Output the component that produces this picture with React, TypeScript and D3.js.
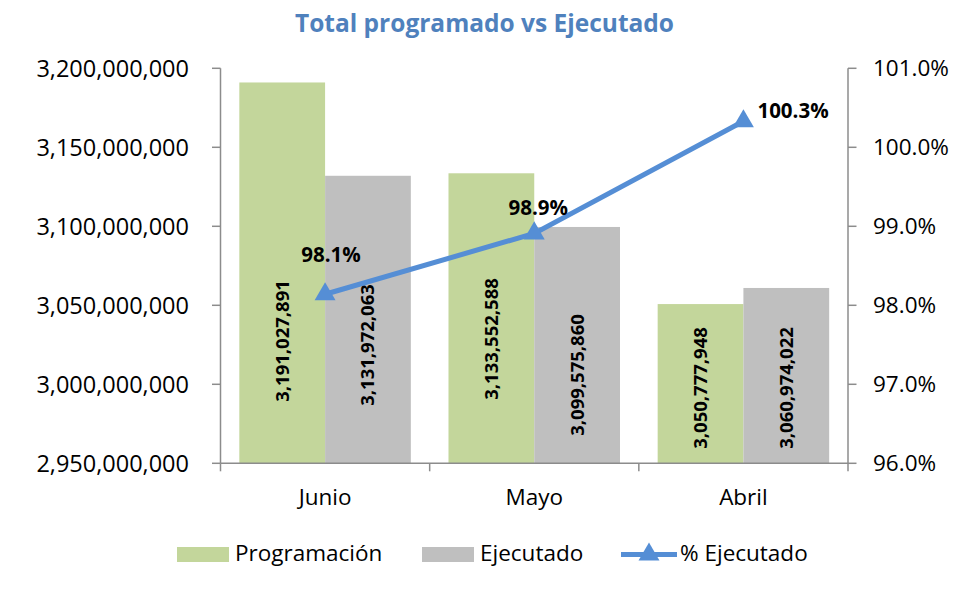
import React from 'react'
import * as d3 from 'd3'

// chart values
const categories = ['Junio', 'Mayo', 'Abril']
const programado = [3191027891, 3133552588, 3050777948]
const ejecutado = [3131972063, 3099575860, 3060974022]
const pctEjecutado = [0.9814, 0.9891, 1.0033]
const leftTicks = [2950000000, 3000000000, 3050000000, 3100000000, 3150000000, 3200000000]
const rightTicks = [0.96, 0.97, 0.98, 0.99, 1.0, 1.01]
const seriesNames = ['Programación', 'Ejecutado']

// layout
const width = 956
const height = 591
const marginLeft = 220.5
const marginRight = 108
const marginTop = 68.3
const marginBottom = 127.7
const font = "'Open Sans', 'Noto Sans', sans-serif"
const green = '#C3D69B'
const gray = '#BFBFBF'
const blue = '#558ED5'
const axisColor = '#8C8C8C'

// value labels were placed by hand in the source (centre y, px)
const valueLabelY = [
  [341, 345],
  [339, 375],
  [388, 388],
]
// percent labels: offset from the point [dx, dy(baseline), anchor]
const pctLabelOffset: [number, number, string][] = [
  [6, -32, 'middle'],
  [4, -18, 'middle'],
  [14, -3, 'start'],
]

export default function App() {
  const x = d3.scaleBand<string>()
    .domain(categories)
    .range([marginLeft, width - marginRight])

  const x1 = d3.scaleBand<string>()
    .domain(seriesNames)
    .range([x.bandwidth() * 0.09, x.bandwidth() * 0.91])

  const y = d3.scaleLinear()
    .domain([2950000000, 3200000000])
    .range([height - marginBottom, marginTop])

  const y2 = d3.scaleLinear()
    .domain([0.96, 1.01])
    .range([height - marginBottom, marginTop])

  const fmtNum = d3.format(',')
  const fmtPct = d3.format('.1%')

  const xMid = (c: string) => (x(c) as number) + x.bandwidth() / 2
  const line = d3.line<number>()
    .x((d, i) => xMid(categories[i]))
    .y(d => y2(d))

  const tri = d3.symbol(d3.symbolTriangle, 190)()
  const y0 = height - marginBottom
  const xRight = width - marginRight
  const boundaries = [...categories.map(c => x(c) as number), xRight]

  const series = [programado, ejecutado]
  const colors = [green, gray]

  return (
    <svg width={width} height={height}
      style={{ position: 'absolute', left: 0, top: 0, background: '#fff' }}
      fontFamily={font}>
      <text x={484.5} y={32} textAnchor="middle" fontSize={24.5} fontWeight="bold" fill="#4F81BD">
        Total programado vs Ejecutado
      </text>

      {/* bars */}
      {series.map((s, si) => s.map((v, i) => (
        <rect key={`b${si}-${i}`}
          x={(x(categories[i]) as number) + (x1(seriesNames[si]) as number)}
          y={y(v)}
          width={x1.bandwidth()}
          height={y0 - y(v)}
          fill={colors[si]} />
      )))}

      {/* bar value labels */}
      {series.map((s, si) => s.map((v, i) => {
        const cx = (x(categories[i]) as number) + (x1(seriesNames[si]) as number) + x1.bandwidth() / 2
        const cy = valueLabelY[i][si]
        return (
          <text key={`l${si}-${i}`} transform={`translate(${cx},${cy}) rotate(-90)`}
            textAnchor="middle" dy="0.35em" fontSize={18.5} fontWeight="bold" fill="#000">
            {fmtNum(v)}
          </text>
        )
      }))}

      {/* axes */}
      <g stroke={axisColor} strokeWidth={1.5} fill="none">
        <line x1={marginLeft} x2={marginLeft} y1={marginTop} y2={y0} />
        <line x1={xRight} x2={xRight} y1={marginTop} y2={y0} />
        <line x1={marginLeft} x2={xRight} y1={y0} y2={y0} />
        {leftTicks.map(t => (
          <line key={`lt${t}`} x1={marginLeft - 8.5} x2={marginLeft} y1={y(t)} y2={y(t)} />
        ))}
        {rightTicks.map(t => (
          <line key={`rt${t}`} x1={xRight} x2={xRight + 8.5} y1={y2(t)} y2={y2(t)} />
        ))}
        {boundaries.map(b => (
          <line key={`xt${b}`} x1={b} x2={b} y1={y0} y2={y0 + 8} />
        ))}
      </g>

      {leftTicks.map(t => (
        <text key={`ltl${t}`} x={189} y={y(t)} dy="0.35em" textAnchor="end" fontSize={23.5} fill="#000">
          {fmtNum(t)}
        </text>
      ))}
      {rightTicks.map(t => (
        <text key={`rtl${t}`} x={873} y={y2(t)} dy="0.35em" textAnchor="start" fontSize={22.5} fill="#000">
          {fmtPct(t)}
        </text>
      ))}
      {categories.map(c => (
        <text key={`c${c}`} x={xMid(c)} y={505} textAnchor="middle" fontSize={22.5} fill="#000">{c}</text>
      ))}

      {/* % ejecutado line */}
      <path d={line(pctEjecutado) as string} fill="none" stroke={blue} strokeWidth={5} />
      {pctEjecutado.map((p, i) => (
        <path key={`m${i}`} d={tri as string} transform={`translate(${xMid(categories[i])},${y2(p)})`} fill={blue} />
      ))}
      {pctEjecutado.map((p, i) => (
        <text key={`pl${i}`} x={xMid(categories[i]) + pctLabelOffset[i][0]} y={y2(p) + pctLabelOffset[i][1]}
          textAnchor={pctLabelOffset[i][2]} fontSize={20.5} fontWeight="bold" fill="#000">
          {fmtPct(p)}
        </text>
      ))}

      {/* legend */}
      <g fontSize={22.5} fill="#000">
        <rect x={177} y={547} width={52} height={15} fill={green} />
        <text x={235} y={561}>Programación</text>
        <rect x={422} y={547} width={52} height={15} fill={gray} />
        <text x={480} y={561}>Ejecutado</text>
        <line x1={621} x2={677} y1={554.5} y2={554.5} stroke={blue} strokeWidth={5} />
        <path d={tri as string} transform="translate(649,554.5)" fill={blue} />
        <text x={680} y={561}>% Ejecutado</text>
      </g>
    </svg>
  )
}
